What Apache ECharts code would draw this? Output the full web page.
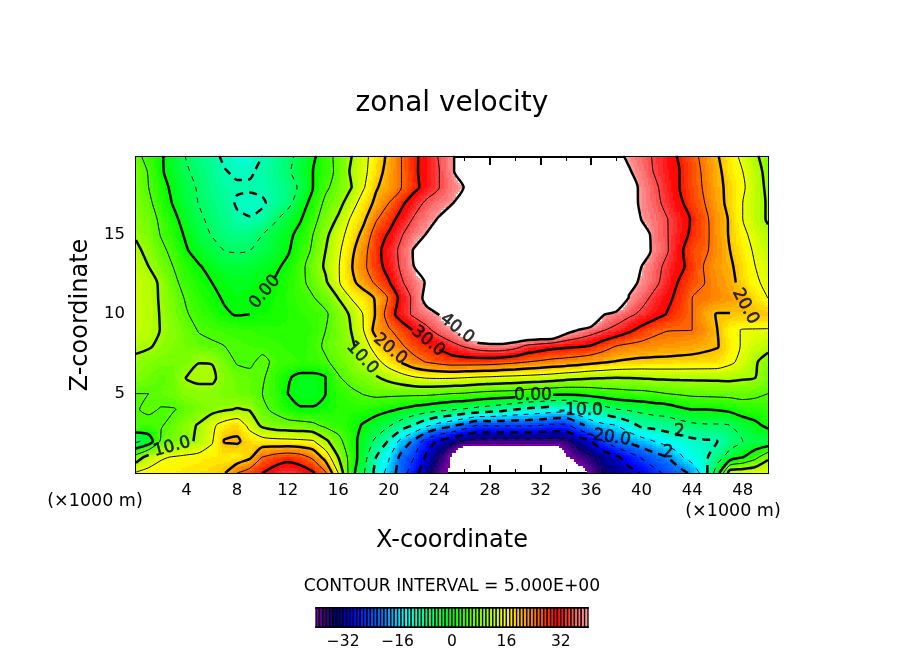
<!DOCTYPE html>
<html><head><meta charset="utf-8">
<style>html,body{margin:0;padding:0;background:#fff}#c{width:904px;height:654px}</style>
<script src="https://cdn.jsdelivr.net/npm/echarts@6/dist/echarts.min.js"></script>
</head><body><div id="c"></div>
<script>
// velocity values, one row per z (km), one value per x = 0..50 km
const W = 50, B = -50; // beyond the colour range (drawn white)
const z0  = [15.5,16.5,17,17,17.5,18,18.5,19.7,25,27.5, 30,32.5,34.5,33,30.7,25.5,15,2,-4.5,-11.5, -17,-22.5,-28,-33.5,-38,-41,B,B,B,B, B,B,B,B,B,-43,-38.5,-35,-33.5,-31.8, -29.7,-26.5,-24,-22,-19,-12,-2,13,13.5,14, 14.5];
const z1  = [7,12,14.5,15.3,16,16.5,17,17,16.5,19, 25.2,27,28,27,24,18,10,3,-3,-10, -14.5,-21.5,-25,-31,-35,-41,B,B,B,B, B,B,B,B,-40.5,-37.5,-35.5,-33,-31,-27.5, -24.5,-22,-20,-16,-12.5,-11,-7,-3,-0.2,3.5, 9];
const z2  = [-6,-3,6,7.5,8.8,11,14.5,20.4,20.7,18, 17,16.5,16.3,16,15.5,11,6.5,2,-2,-6, -10.5,-16.5,-21,-27.5,-31,-33.5,-35.5,-36.5,-37,-37, -37,-37,-37,-37,-36.5,-33,-30,-25,-21,-19, -17,-15,-13,-12,-11,-10.5,-10,-7,-5,-4, -4];
const z3  = [5,4,4.7,6.5,8.5,10.5,14,17,18.5,13.5, 9,7.5,7,6.7,6,4,3,1.5,-0.4,-2.5, -4.5,-7.5,-10.5,-14,-17,-19,-22,-25,-24.5,-24.5, -24.5,-24.5,-25,-26,-26,-22,-18,-16,-15,-12, -9,-8.5,-8,-7,-6,-5.5,-5.5,-5,-3,-1, 1];
const z4  = [4.8,5.5,4.8,4.8,6,7.5,8.5,9.5,10.3,9.7, 6,4,1.5,0.4,0.4,1,2,2.2,2.2,1.7, 0.7,-0.4,-1.7,-2.7,-3.7,-4.7,-5.5,-6.5,-7.5,-8.5, -10,-11,-11.7,-12.5,-13,-11,-9,-7,-5.2,-4.5, -3.8,-3,-2.5,-1,0,0,0.3,1,2.5,2.5, 3];
const z5  = [5,5,6,6.7,8.5,8.5,8.5,7.5,7,6, 5,3,0,-1.5,-1.6,0,2.5,4,5.2,6, 6,6,6,6,5.5,5,4.7,4,3.5,3.2, 3,2,1.5,1,0.7,1,1.7,2.5,3,3.5, 3.7,4.3,5,5.5,6,6.2,6.3,6.4,6.5,6, 5];
const z6  = [8,7,5.5,7,10.2,11,11,8,6.7,6, 5.5,3,0.5,-1.3,-1.3,0,4.6,6.5,7.5,9.5, 11.3,13,14.5,15.3,15.5,15.4,15,14.5,14.2,13.8, 13.5,13.2,12.8,12.3,11.5,11,10.4,10.2,10,10.1, 10.3,10.6,10.7,10.8,10.8,10.8,10.9,11,10.5,10, 7];
const z7  = [9,8,7.5,7,7.5,9.9,9.8,7,4.6,4.3, 6,4.2,3.5,3,3,4.5,6.3,8,11,13.5, 17.3,20.5,23.5,25.3,26.5,27.5,27.5,27.5,27.3,26.7, 26,25,24.3,23.5,23,22.3,21.3,20.5,19.7,19.2, 18.8,18.7,18.6,18.5,18.4,18.3,18,16,13.5,10.5, 8];
const z8  = [11,10.5,9,8,7,6.2,5.5,5,4.5,4, 3.8,3.3,2.8,2.3,3.5,5.7,7.5,9,12.5,17.5, 22,24.5,27,29,31,33.5,35.5,37.5,38.5,38.5, 37,34,32.7,31.5,31,30.5,29.8,27.3,25,24, 23.5,23,22.7,22.3,21.8,21,20.3,17,14.5,13, 11.5];
const z9  = [12.5,11.5,9.8,8.3,6.5,4.7,4.2,3.7,3.3,3, 2.5,2.3,2.1,2.3,3,5,7.3,10,15,22, 24.5,27,30.5,33.8,37,39.3,44,W,W,W, W,W,W,W,43,39.8,37.3,35.2,33.5,31, 28.5,26.3,25.2,25.1,25,23,20,16.2,14.7,14.6, 14.5];
const z10 = [12.5,11.5,9.7,7.5,5.3,3.5,2,0.5,-0.3,0, 0.8,1.3,2,2.8,3.5,4.3,7.8,10.5,15.3,20.5, 27.5,32.5,36,38,40.2,45,W,W,W,W, W,W,W,W,W,W,W,40.3,38,36, 34,32,29.8,27.5,25,21.5,19.7,19.8,19.9,19.9, 20];
const z11 = [12.5,11.5,9.5,7,4.5,2.5,1,-0.4,-1,-0.5, 0.2,1,2.2,3.5,4.7,6.7,10,15,17.5,20.5, 25.5,31.7,36.2,42,W,W,W,W,W,W, W,W,W,W,W,W,W,W,W,39.5, 36.7,33.7,31.2,28.5,25,24.5,23.5,22.3,21,18, 15];
const z12 = [12.5,11.5,9.3,6,3.2,1.5,0,-1,-1.3,-1.2, -0.8,0.4,2,4,6.3,9.3,14.5,18.7,22,26, 29.6,34.5,37.5,40.5,46,W,W,W,W,W, W,W,W,W,W,W,W,W,W,42, 39,36.3,33,29.5,27,25,23,21.4,18.3,15.6, 14];
const z13 = [12,10,7.5,4.8,2.2,0.3,-1.3,-2.7,-3,-2.8, -1.8,-0.8,1,3.8,7,10.7,14.6,19.5,24,28, 31.8,35.8,40,47,W,W,W,W,W,W, W,W,W,W,W,W,W,W,W,W, 40,36.9,33.8,31.3,28,24.6,22.3,20.7,18,15, 13.5];
const z14 = [11,8.7,6,3.7,0.3,-1.7,-3.5,-5,-5.3,-5, -3.9,-2.7,-0.5,2.5,5.7,10,14,18.7,23.5,28.2, 32.7,36,40.5,46,W,W,W,W,W,W, W,W,W,W,W,W,W,W,W,W, 44,38.4,35.5,31.2,27,25.7,23.2,20,17,14.3, 12];
const z15 = [9.5,7.5,4.7,2,-0.7,-3.5,-5.2,-6.7,-7.5,-7, -5,-3,-1.2,1.5,5,9,13,17,21.5,27.5, 30.5,34.7,37.7,40.3,45,W,W,W,W,W, W,W,W,W,W,W,W,W,W,W, 44,38,35.3,32.2,29,26.2,22.7,19.5,16,13.5, 11];
const z16 = [8.5,7,4,1,-2,-4.3,-6,-7.5,-9.3,-9.8, -9,-5.6,-3,-0.4,3.5,7.3,10.6,15.5,19,24.5, 28,31.7,35.5,38,40.5,46,W,W,W,W, W,W,W,W,W,W,W,W,W,W, 39.5,37.5,35.2,32.5,29.5,26,22.7,19.4,15,12, 9.5];
const z17 = [8,6,2.5,-0.5,-3.2,-5.2,-6.8,-8,-10.5,-11, -10.5,-8.7,-6.3,-2.5,1.8,6,8.3,12.5,17.5,21, 25,29,32.7,36,37.7,39.5,44,W,W,W, W,W,W,W,W,W,W,W,W,43, 38.8,36.5,33.7,31,27.7,25,21.8,18.5,15,12, 9.5];
const z18 = [7.5,5,2,-1.5,-3.7,-5.5,-7.5,-8.8,-9.5,-9.5, -9.2,-8.5,-7,-4.3,0,4.2,6.8,9.7,14.5,19.6, 21.9,25,28.6,32,35,37.7,40.2,48,W,W, W,W,W,W,W,W,W,W,W,43, 38.7,36,33,30,27.2,24.4,21.2,18.7,15.7,12.2, 9];
const z19 = [7.5,4.7,0.5,-2.1,-4.6,-6.2,-7.8,-9.8,-10.6,-10.5, -9.2,-7.7,-5.7,-3,0,3,6.2,10.5,13.7,18, 21.7,25,29,32.2,35,39,45,W,W,W, W,W,W,W,W,W,W,W,W,40.5, 37.7,34.7,32.2,30,27.2,24,21.2,17.5,15,11.8, 8.5];
const z20 = [6,3.5,0.5,-2.5,-5.3,-7.2,-9,-10.7,-11.5,-11.5, -10,-8.5,-6.2,-3.7,-1,3,6.5,9.7,13.5,17.3, 21,25,29,32,35.5,39,45,W,W,W, W,W,W,W,W,W,W,W,41.5,38.9, 36.7,34.5,32,29.4,26.5,23.4,20.3,17,13.7,10.6, 8];
const fieldRows = [z0,z1,z2,z3,z4,z5,z6,z7,z8,z9,z10,z11,z12,z13,z14,z15,z16,z17,z18,z19,z20];
fieldRows.forEach((r,i)=>{ if(r.length!==51) throw new Error('row z'+i+' has '+r.length); });

const contourLevels = [-35,-30,-25,-20,-15,-10,-5,0,5,10,15,20,25,30,35,40];
const colorBarLevels = []; for (let v=-40;v<40;v++) colorBarLevels.push(v);
const colorBarTicks = [-32,-16,0,16,32];
// contour labels: x km, z km, text, rotation, level
const labelX    = [10.2,2.85,25.4,23.1,20.1,17.9,31.4,35.2,37.4,48.2,42.1,43];
const labelZ    = [11.4,1.65,9.1,8.3,7.8,7.25,4.85,3.9,2.25,10.5,1.26,2.6];
const labelText = ['0.00','10.0','40.0','30.0','20.0','10.0','0.00','-10.0','-20.0','20.0','2','2'];
const labelRot  = [50,15,-38,-40,-40,-47,0,0,-8,-62,0,0];
const labelLvl  = [0,10,40,30,20,10,0,-10,-20,20,999,999];
// colour scale stops
const stopVal = [-40,-37,-34,-29,-20,-14,-7,0,8,16,24,31,40];
const stopRGB = [[130,0,170],[60,0,130],[0,0,120],[0,0,255],[0,128,255],[0,255,255],[0,255,128],[0,255,0],[128,255,0],[255,255,0],[255,128,0],[255,0,0],[255,160,160]];

function colorOf(v){
  const q=Math.floor(v)+0.5;
  for(let i=1;i<stopVal.length;i++) if(q<=stopVal[i]){
    const t=(q-stopVal[i-1])/(stopVal[i]-stopVal[i-1]), a=stopRGB[i-1], b=stopRGB[i];
    return 'rgb('+a.map((c,k)=>Math.round(c+(b[k]-c)*t)).join(',')+')';
  }
  return 'rgb(255,160,160)';
}
const FONT='DejaVu Sans';

// contour tracing on the value grid (marching squares, chained into polylines)
function traceLevel(L){
  const segs=[], nx=50, nz=20;
  const val=(i,j)=>fieldRows[j][i];
  const edgePt=(i1,j1,i2,j2)=>{const a=val(i1,j1),b=val(i2,j2),t=(L-a)/(b-a);return {k:[i1,j1,i2,j2].join('_'),x:i1+(i2-i1)*t,z:j1+(j2-j1)*t};};
  for(let j=0;j<nz;j++)for(let i=0;i<nx;i++){
    const c=[[i,j],[i+1,j],[i+1,j+1],[i,j+1]], pts=[];
    for(let e=0;e<4;e++){const p=c[e],q=c[(e+1)%4],a=val(p[0],p[1])>L,b=val(q[0],q[1])>L;
      if(a!==b){const lo=(p[0]<q[0]||p[1]<q[1]);pts.push(lo?edgePt(p[0],p[1],q[0],q[1]):edgePt(q[0],q[1],p[0],p[1]));}}
    if(pts.length===2)segs.push([pts[0],pts[1]]);
    else if(pts.length===4){segs.push([pts[0],pts[1]]);segs.push([pts[2],pts[3]]);}
  }
  // remove the pieces hidden by this level's labels
  const kept=segs.filter(s=>{const mx=(s[0].x+s[1].x)/2,mz=(s[0].z+s[1].z)/2;
    for(let n=0;n<labelX.length;n++){ if(labelLvl[n]!==L)continue;
      const dx=(mx-labelX[n])*12.64,dz=(mz-labelZ[n])*15.85;
      if(Math.hypot(dx,dz)<(labelText[n].length*5)) return false;}
    return true;});
  const adj={}; kept.forEach((s,n)=>{s.forEach(p=>{(adj[p.k]=adj[p.k]||[]).push(n);});});
  const used=new Array(kept.length).fill(false), out=[];
  function walk(start){
    const line=[]; let n=start, p=null;
    const s0=kept[n];
    let first=s0[0]; if(adj[s0[0].k].length>1&&adj[s0[1].k].length===1) first=s0[1];
    p=first; line.push([p.x,p.z]);
    while(n!==undefined&&!used[n]){
      used[n]=true; const s=kept[n]; const o=s[0].k===p.k?s[1]:s[0];
      line.push([o.x,o.z]); p=o;
      n=adj[p.k].find(m=>!used[m]);
    }
    return line;
  }
  kept.forEach((s,n)=>{ if(!used[n]&&(adj[s[0].k].length===1||adj[s[1].k].length===1)){out.push(walk(n));} });
  kept.forEach((s,n)=>{ if(!used[n]) out.push(walk(n)); });
  const data=[]; out.forEach(l=>{l.forEach(p=>data.push(p));data.push([null,null]);});
  return data;
}

const contourSeries = contourLevels.map(L=>({
  type:'line',xAxisIndex:0,yAxisIndex:0,data:traceLevel(L),showSymbol:false,symbol:'none',silent:true,
  connectNulls:false,animation:false,z:5,clip:true,smooth:0.25,
  lineStyle:{color:'#000',width:(L%10===0)?2.5:1,type:L<0?((L%10===0)?[8,6]:[5,6]):'solid',cap:'butt'}
}));

const cellData=[]; for(let j=0;j<20;j++)for(let i=0;i<50;i++)cellData.push([i,j]);
const SUBX=6,SUBZ=7;
function renderCell(params,api){
  const i=api.value(0),j=api.value(1);
  const a=fieldRows[j][i],b=fieldRows[j][i+1],c=fieldRows[j+1][i],d=fieldRows[j+1][i+1];
  const ch=[];
  for(let m=0;m<SUBX;m++)for(let n=0;n<SUBZ;n++){
    const u=(m+0.5)/SUBX,w=(n+0.5)/SUBZ;
    const v=a*(1-u)*(1-w)+b*u*(1-w)+c*(1-u)*w+d*u*w;
    if(v>=40||v<=-40)continue;
    const p0=api.coord([i+m/SUBX,j+n/SUBZ]),p1=api.coord([i+(m+1)/SUBX,j+(n+1)/SUBZ]);
    const x0=Math.round(p0[0]),x1=Math.round(p1[0]),y0=Math.round(p1[1]),y1=Math.round(p0[1]);
    ch.push({type:'rect',shape:{x:x0,y:y0,width:x1-x0,height:y1-y0},style:{fill:colorOf(v)},silent:true});
  }
  return {type:'group',children:ch};
}

const labelData=labelX.map((x,n)=>({value:[x,labelZ[n]],label:{show:true,formatter:labelText[n],rotate:labelRot[n],position:'inside',color:'#000',fontFamily:FONT,fontSize:17,textBorderColor:'#000',textBorderWidth:0.6}}));

const option={
  animation:false,backgroundColor:'#fff',
  graphic:[
    {type:'text',x:452,y:104,style:{text:'zonal velocity',fontFamily:FONT,fontSize:28,fill:'#000',align:'center',verticalAlign:'middle'}},
    {type:'text',x:95,y:501,style:{text:'(×1000 m)',fontFamily:FONT,fontSize:17.5,fill:'#000',align:'center',verticalAlign:'middle'}},
    {type:'text',x:733,y:511,style:{text:'(×1000 m)',fontFamily:FONT,fontSize:17.5,fill:'#000',align:'center',verticalAlign:'middle'}},
    {type:'text',x:452,y:587,style:{text:'CONTOUR INTERVAL = 5.000E+00',fontFamily:FONT,fontSize:17.2,fill:'#000',align:'center',verticalAlign:'middle'}}
  ],
  grid:[
    {left:136,top:157,width:632,height:316,show:false},
    {left:316,top:608,width:272,height:19,show:false}
  ],
  xAxis:[
    {gridIndex:0,type:'value',min:0,max:50,interval:4,position:'bottom',name:'X-coordinate',nameLocation:'middle',nameGap:56,
      nameTextStyle:{fontFamily:FONT,fontSize:24,color:'#000'},
      axisLine:{show:true,lineStyle:{color:'#000',width:2},onZero:false},
      axisTick:{show:true,inside:true,length:8,lineStyle:{color:'#000',width:2}},
      minorTick:{show:true,splitNumber:2,length:4,lineStyle:{color:'#000',width:1}},
      splitLine:{show:false},
      axisLabel:{margin:9,fontFamily:FONT,fontSize:16.5,color:'#000',formatter:v=>(v===0||v===50)?'':String(v),showMaxLabel:false}},
    {gridIndex:0,type:'value',min:0,max:50,interval:4,position:'top',
      axisLine:{show:true,lineStyle:{color:'#000',width:2},onZero:false},
      axisTick:{show:true,inside:true,length:8,lineStyle:{color:'#000',width:2}},
      minorTick:{show:true,splitNumber:2,length:4,lineStyle:{color:'#000',width:1}},
      splitLine:{show:false},axisLabel:{show:false}},
    {gridIndex:1,type:'value',min:-40,max:40,interval:8,position:'bottom',
      axisLine:{show:true,lineStyle:{color:'#000',width:2},onZero:false},axisTick:{show:false},splitLine:{show:false},
      axisLabel:{margin:7,fontFamily:FONT,fontSize:15.5,color:'#000',hideOverlap:false,
        formatter:v=>colorBarTicks.includes(v)?String(v).replace('-','\u2212'):''}},
    {gridIndex:1,type:'value',min:-40,max:40,position:'top',
      axisLine:{show:true,lineStyle:{color:'#000',width:2},onZero:false},axisTick:{show:false},splitLine:{show:false},axisLabel:{show:false}}
  ],
  yAxis:[
    {gridIndex:0,type:'value',min:0,max:19.9,interval:5,position:'left',name:'Z-coordinate',nameLocation:'middle',nameGap:38,
      nameTextStyle:{fontFamily:FONT,fontSize:24,color:'#000'},
      axisLine:{show:true,lineStyle:{color:'#000',width:2},onZero:false},
      axisTick:{show:true,inside:true,length:8,lineStyle:{color:'#000',width:2}},
      minorTick:{show:true,splitNumber:5,length:4,lineStyle:{color:'#000',width:1}},
      splitLine:{show:false},
      axisLabel:{margin:11,padding:[3,0,0,0],fontFamily:FONT,fontSize:16.5,color:'#000',formatter:v=>(v===0||v>19)?'':String(v)}},
    {gridIndex:0,type:'value',min:0,max:19.9,interval:5,position:'right',
      axisLine:{show:true,lineStyle:{color:'#000',width:2},onZero:false},
      axisTick:{show:true,inside:true,length:8,lineStyle:{color:'#000',width:2}},
      minorTick:{show:true,splitNumber:5,length:4,lineStyle:{color:'#000',width:1}},
      splitLine:{show:false},axisLabel:{show:false}},
    {gridIndex:1,type:'value',min:0,max:1,show:true,position:'left',axisLine:{show:true,lineStyle:{color:'#000',width:2}},axisTick:{show:false},axisLabel:{show:false},splitLine:{show:false}},
    {gridIndex:1,type:'value',min:0,max:1,show:true,position:'right',axisLine:{show:true,lineStyle:{color:'#000',width:2}},axisTick:{show:false},axisLabel:{show:false},splitLine:{show:false}}
  ],
  series:[
    {type:'custom',xAxisIndex:0,yAxisIndex:0,data:cellData,renderItem:renderCell,silent:true,clip:true,z:1,progressive:0,animation:false,encode:{x:0,y:1}},
    ...contourSeries,
    {type:'scatter',xAxisIndex:0,yAxisIndex:0,data:labelData,symbolSize:1,itemStyle:{color:'rgba(0,0,0,0)'},silent:true,z:6,animation:false},
    {type:'custom',xAxisIndex:2,yAxisIndex:2,data:colorBarLevels.map(v=>[v]),silent:true,z:1,progressive:0,animation:false,encode:{x:0},
      renderItem(params,api){
        const v=api.value(0),p0=api.coord([v,0]),p1=api.coord([v+1,1]);
        return {type:'rect',shape:{x:p0[0],y:p1[1],width:p1[0]-p0[0],height:p0[1]-p1[1]},style:{fill:colorOf(v),stroke:'#000',lineWidth:1.3}};
      }}
  ]
};
const chart=echarts.init(document.getElementById('c'),null,{renderer:'canvas',width:904,height:654});
chart.setOption(option);
</script></body></html>
